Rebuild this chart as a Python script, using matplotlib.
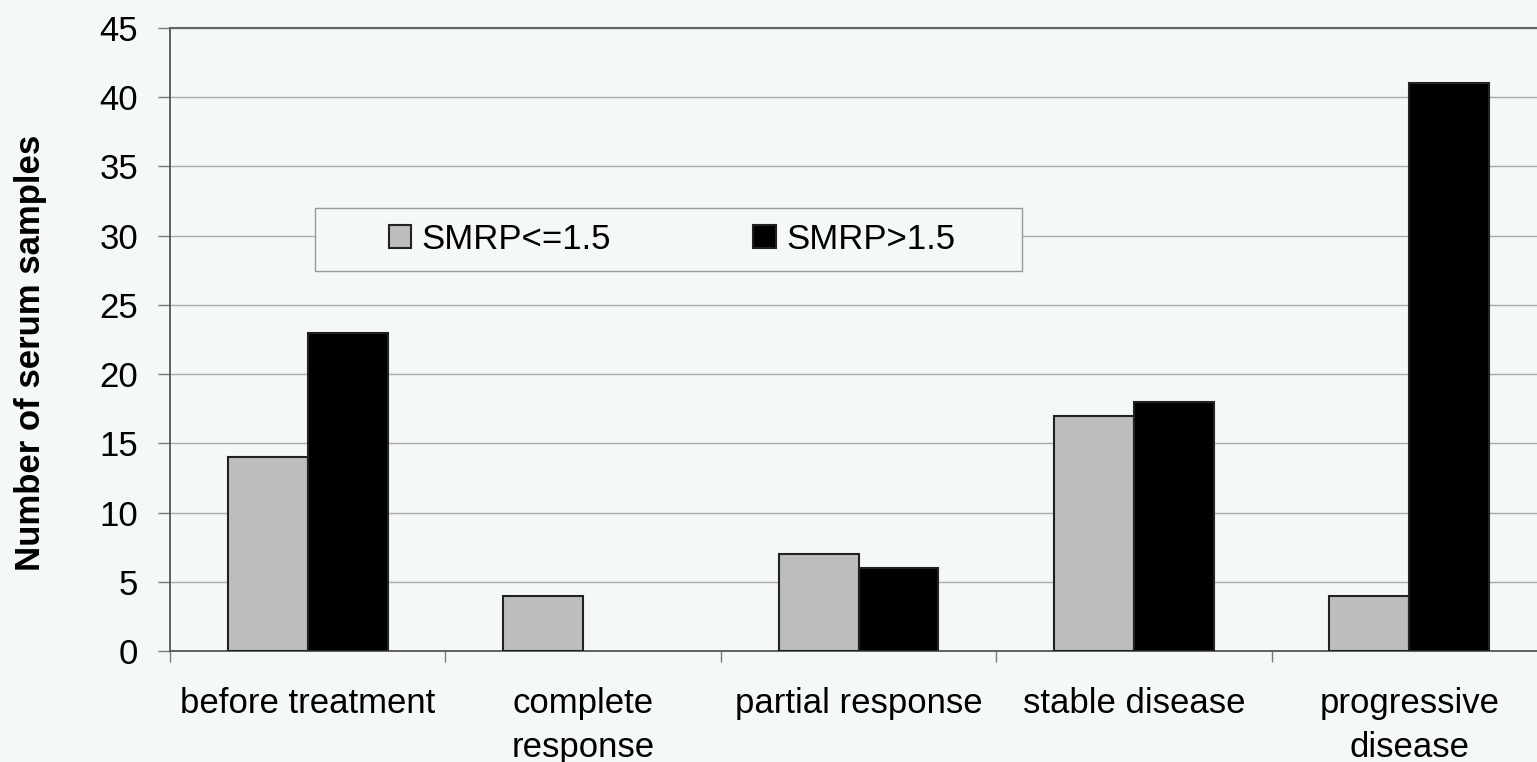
import numpy as np
import matplotlib.pyplot as plt
from matplotlib.patches import Rectangle

categories = ['before treatment', 'complete\nresponse', 'partial response',
              'stable disease', 'progressive\ndisease']
low_smrp = [14, 4, 7, 17, 4]
high_smrp = [23, 0, 6, 18, 41]
yticks = [0, 5, 10, 15, 20, 25, 30, 35, 40, 45]

plt.rcParams['font.family'] = ['Liberation Sans', 'DejaVu Sans']
bg = '#f5f9f6'

fig = plt.figure(figsize=(15.37, 7.62), dpi=100, facecolor=bg)
ax = fig.add_axes([170 / 1537, 111 / 762, 1377 / 1537, 623 / 762], facecolor=bg)

x = np.arange(len(categories))
w = 0.29
# no outline for empty bars
ax.bar(x - w / 2, low_smrp, w, color='#bdbdbd', edgecolor='#222222',
       linewidth=[1.5 if v else 0 for v in low_smrp], label='SMRP<=1.5', zorder=3)
ax.bar(x + w / 2, high_smrp, w, color='black', edgecolor='#222222',
       linewidth=[1.5 if v else 0 for v in high_smrp], label='SMRP>1.5', zorder=3)

ax.set_xlim(-0.5, 4.5)
ax.set_ylim(0, 45)
ax.set_yticks(yticks)
ax.tick_params(axis='y', labelsize=25, length=9, width=1, color='#777777', pad=14)
ax.yaxis.grid(True, color='#aaaaaa', linewidth=1)
ax.set_axisbelow(True)

# category labels centred, ticks at the category boundaries
ax.set_xticks(x)
ax.set_xticklabels(categories, fontsize=25, linespacing=1.4)
ax.tick_params(axis='x', length=0, pad=26)
ax.set_xticks(np.arange(-0.5, 5, 1), minor=True)
ax.tick_params(axis='x', which='minor', length=8, width=1, color='#777777')

ax.spines['right'].set_visible(False)
ax.spines['top'].set_color('#666666')
ax.spines['top'].set_linewidth(1.5)
ax.spines['left'].set_color('#555555')
ax.spines['bottom'].set_color('#555555')
ax.spines['left'].set_linewidth(1.3)
ax.spines['bottom'].set_linewidth(1.3)

ax.set_ylabel('Number of serum samples', fontsize=25, fontweight='bold')
ax.yaxis.set_label_coords(-0.0894, 0.478)

# legend box drawn by hand so the padding can match
ax.add_patch(Rectangle((0.105, 0.61), 0.514, 0.101, transform=ax.transAxes,
                       facecolor=bg, edgecolor='#999999', linewidth=1, zorder=4))
leg = ax.legend(loc='center', bbox_to_anchor=(0.3646, 0.6605), ncol=2, fontsize=25,
                frameon=False, handlelength=0.65, handleheight=0.65, handletextpad=0.3,
                columnspacing=4.1, borderaxespad=0)
leg.set_zorder(5)

fig.savefig('out.png', dpi=100, facecolor=bg)
